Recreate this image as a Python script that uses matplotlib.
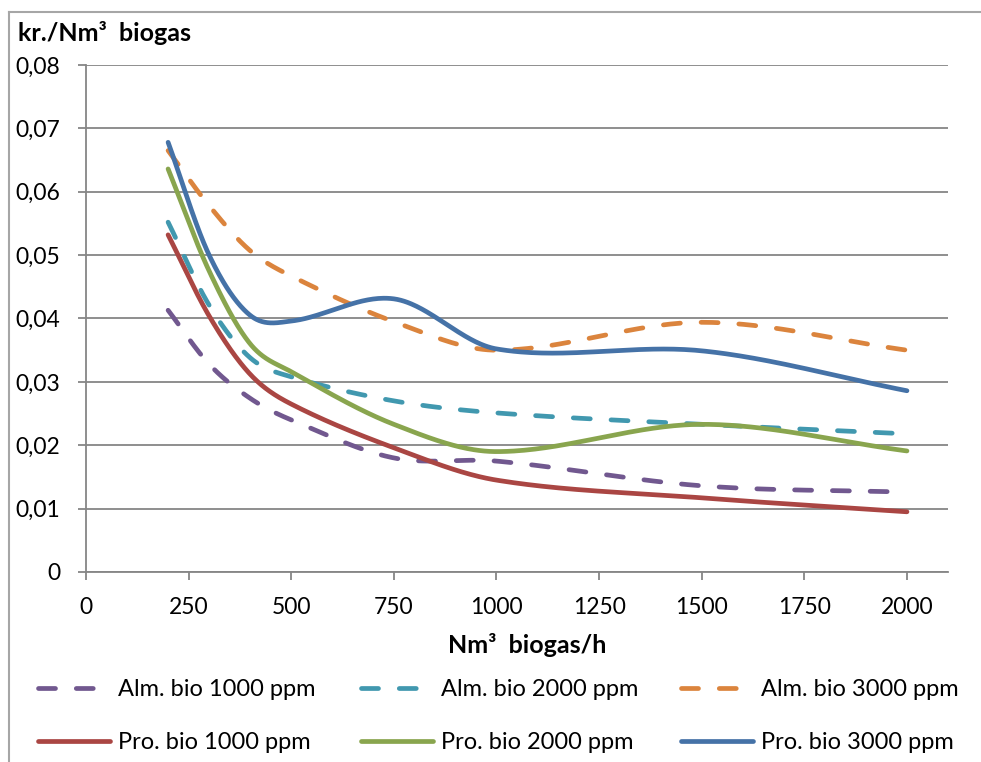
import numpy as np
import matplotlib
matplotlib.use("Agg")
import matplotlib.pyplot as plt
from matplotlib.lines import Line2D
from matplotlib.ticker import FuncFormatter, MultipleLocator

plt.rcParams['font.family'] = ['Lato', 'DejaVu Sans']

# data
flow = [200, 300, 400, 500, 750, 1000, 1500, 2000]
alm_1000 = [0.0413, 0.0328, 0.0274, 0.0240, 0.0180, 0.0175, 0.0136, 0.0126]
alm_2000 = [0.0552, 0.0421, 0.0338, 0.0308, 0.0270, 0.0251, 0.0233, 0.0218]
alm_3000 = [0.0665, 0.0578, 0.0507, 0.0467, 0.0395, 0.0350, 0.0394, 0.0350]
pro_1000 = [0.0532, 0.0404, 0.0312, 0.0265, 0.0196, 0.0145, 0.0117, 0.0095]
pro_2000 = [0.0636, 0.0475, 0.0360, 0.0316, 0.0233, 0.0190, 0.0233, 0.0191]
pro_3000 = [0.0678, 0.0500, 0.0405, 0.0396, 0.0431, 0.0352, 0.0349, 0.0286]

series = [
    ("Alm. bio 1000 ppm", alm_1000, "#71588F", True),
    ("Alm. bio 2000 ppm", alm_2000, "#4198AF", True),
    ("Alm. bio 3000 ppm", alm_3000, "#DB843D", True),
    ("Pro. bio 1000 ppm", pro_1000, "#AA4643", False),
    ("Pro. bio 2000 ppm", pro_2000, "#89A54E", False),
    ("Pro. bio 3000 ppm", pro_3000, "#4572A7", False),
]


def smooth(x, y, n=60):
    # smoothed line like excel: cubic hermite with catmull-rom slopes
    x = np.asarray(x, float)
    y = np.asarray(y, float)
    m = np.empty_like(y)
    m[1:-1] = (y[2:] - y[:-2]) / (x[2:] - x[:-2])
    m[0] = (y[1] - y[0]) / (x[1] - x[0])
    m[-1] = (y[-1] - y[-2]) / (x[-1] - x[-2])
    xs, ys = [], []
    t = np.linspace(0, 1, n)
    for i in range(len(x) - 1):
        h = x[i + 1] - x[i]
        h00 = 2 * t**3 - 3 * t**2 + 1
        h10 = t**3 - 2 * t**2 + t
        h01 = -2 * t**3 + 3 * t**2
        h11 = t**3 - t**2
        seg = h00 * y[i] + h10 * h * m[i] + h01 * y[i + 1] + h11 * h * m[i + 1]
        k = 0 if i == 0 else 1
        xs.append((x[i] + t * h)[k:])
        ys.append(seg[k:])
    return np.concatenate(xs), np.concatenate(ys)


W, H = 981, 762
fig = plt.figure(figsize=(W / 100, H / 100), dpi=100)
ax = fig.add_axes([86 / W, 1 - 572 / H, (948 - 86) / W, (572 - 65) / H])

grey = "#868686"
lines = {}
for name, vals, col, dashed in series:
    xs, ys = smooth(flow, vals)
    ln, = ax.plot(xs, ys, color=col, lw=3.4, solid_capstyle='round', dash_capstyle='round',
                  label=name, zorder=3)
    if dashed:
        ln.set_dashes((3.6, 4.4))
    lines[name] = ln

ax.set_xlim(0, 2100)
ax.set_ylim(0, 0.08)
ax.set_xticks(np.arange(0, 2001, 250))
ax.yaxis.set_major_locator(MultipleLocator(0.01))
ax.yaxis.set_major_formatter(FuncFormatter(lambda v, p: "0" if abs(v) < 1e-9 else f"{v:.2f}".replace('.', ',')))
ax.grid(axis='y', color=grey, lw=1.3, zorder=0)
ax.set_axisbelow(True)
for s in ['top', 'right']:
    ax.spines[s].set_visible(False)
for s in ['left', 'bottom']:
    ax.spines[s].set_color(grey)
    ax.spines[s].set_linewidth(1.3)
ax.tick_params(axis='both', direction='out', length=6, width=1.3, color=grey, labelsize=16.5)
ax.tick_params(axis='y', pad=12.5)
ax.tick_params(axis='x', pad=12)

fig.text(18 / W, 1 - 33 / H, "kr./Nm³  biogas", fontsize=18, fontweight='bold', va='center', ha='left')
fig.text(527 / W, 1 - 645 / H, "Nm³  biogas/h", fontsize=18, fontweight='bold', va='center', ha='center')

# outer frame (only top and left visible)
fig.add_artist(Line2D([9 / W, 9 / W], [0, 1 - 12 / H], color="#a6a6a6", lw=1.5))
fig.add_artist(Line2D([9 / W, 1], [1 - 12 / H, 1 - 12 / H], color="#a6a6a6", lw=1.5))

# legend in three columns placed like the excel legend
cols = [(38, ["Alm. bio 1000 ppm", "Pro. bio 1000 ppm"]),
        (361, ["Alm. bio 2000 ppm", "Pro. bio 2000 ppm"]),
        (681, ["Alm. bio 3000 ppm", "Pro. bio 3000 ppm"])]
for xpx, names in cols:
    fig.legend([lines[n] for n in names], names, loc='upper left',
               bbox_to_anchor=(xpx / W, 1 - 679 / H), frameon=False, fontsize=17,
               borderpad=0, borderaxespad=0, handlelength=3.05, handletextpad=0.33,
               labelspacing=1.35)

fig.savefig("out.png", dpi=100)
